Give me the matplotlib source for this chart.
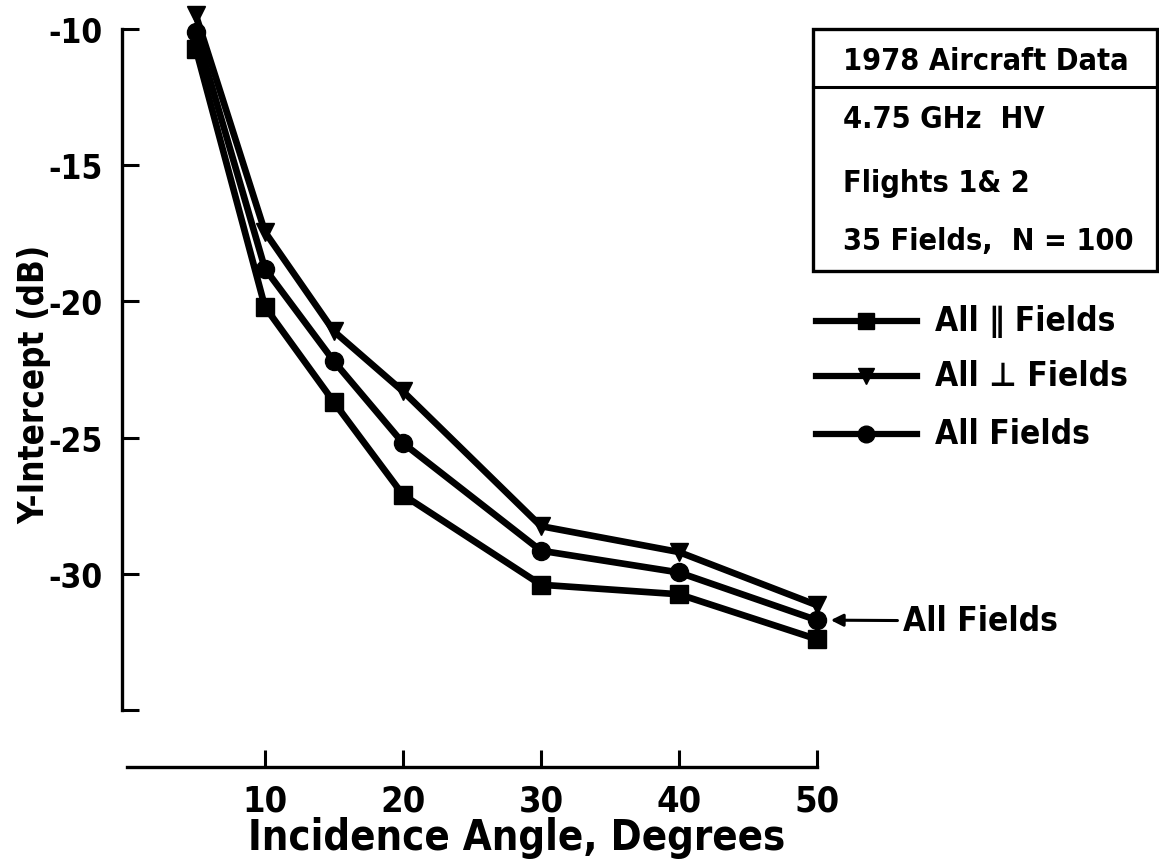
import matplotlib
matplotlib.use('Agg')
import matplotlib.pyplot as plt
from matplotlib.patches import Rectangle

# 字体：窄体 DejaVu，接近原图的手写字母风格
plt.rcParams['font.family'] = ['DejaVu Sans']
plt.rcParams['font.stretch'] = 'condensed'
plt.rcParams['font.weight'] = 'bold'
plt.rcParams['axes.labelweight'] = 'bold'

# ==================== 数据 ====================
angles = [5, 10, 15, 20, 30, 40, 50]
par_fields = [-10.75, -20.2, -23.7, -27.1, -30.4, -30.75, -32.4]   # All ∥ Fields (square)
perp_fields = [-9.5, -17.45, -21.1, -23.3, -28.25, -29.2, -31.15]  # All ⊥ Fields (triangle)
all_fields = [-10.1, -18.8, -22.2, -25.2, -29.15, -29.95, -31.7]   # All Fields (circle)

x_ticks = [10, 20, 30, 40, 50]
y_ticks = [-10, -15, -20, -25, -30, -35]
y_tick_labels = ['-10', '-15', '-20', '-25', '-30', '']

series = [
    ('All \u2225 Fields', par_fields, 's'),
    ('All \u22a5 Fields', perp_fields, 'v'),
    ('All Fields', all_fields, 'o'),
]

# ==================== 绘图 ====================
W, H = 1159, 862
fig = plt.figure(figsize=(W / 100, H / 100), dpi=100)
fig.patch.set_facecolor('white')

ax_left, ax_right, ax_top, ax_bot = 122, 840, 0, 768
ax = fig.add_axes([ax_left / W, (H - ax_bot) / H,
                   (ax_right - ax_left) / W, (ax_bot - ax_top) / H])
ax.set_xlim(-0.36, 51.67)
ax.set_ylim(-37.09, -8.9)
ax.patch.set_alpha(0)

for label, vals, mk in series:
    ax.plot(angles, vals, color='black', lw=4.8, marker=mk, ms=13,
            mfc='black', mec='black', clip_on=False, zorder=3)

for side in ['top', 'right']:
    ax.spines[side].set_visible(False)
ax.spines['left'].set_bounds(-35, -10)
ax.spines['bottom'].set_bounds(0, 50)
ax.spines['left'].set_linewidth(2.4)
ax.spines['bottom'].set_linewidth(2.4)

ax.set_yticks(y_ticks)
ax.set_yticklabels(y_tick_labels)
ax.set_xticks(x_ticks)
ax.tick_params(axis='both', direction='in', length=12, width=2.2,
               labelsize=24, pad=14)
ax.tick_params(axis='x', pad=12, labelsize=26)

ax.set_ylabel('Y-Intercept (dB)', fontsize=25)
ax.yaxis.set_label_coords(-0.098, 0.499)
ax.set_xlabel('Incidence Angle, Degrees', fontsize=30)
ax.xaxis.set_label_coords(0.55, -0.064)

# --- 右上角信息框 ---
box = Rectangle((813 / W, 1 - 272 / H), (1157 - 813) / W, (272 - 30) / H,
                transform=fig.transFigure, fill=False, lw=2.4, color='black')
fig.add_artist(box)
fig.add_artist(plt.Line2D([813 / W, 1157 / W], [1 - 88 / H, 1 - 88 / H],
                          transform=fig.transFigure, color='black', lw=2.2))
info_lines = [('1978 Aircraft Data', 62), ('4.75 GHz  HV', 120),
              ('Flights 1& 2', 183), ('35 Fields,  N = 100', 242)]
for txt, py in info_lines:
    fig.text(843 / W, 1 - py / H, txt, fontsize=22, va='center', ha='left')

# --- 图例 ---
legend_y = [322, 377, 435]
for (label, vals, mk), py in zip(series, legend_y):
    fig.add_artist(plt.Line2D([816 / W, 917 / W], [1 - py / H, 1 - py / H],
                              transform=fig.transFigure, color='black', lw=4.5))
    fig.add_artist(plt.Line2D([866 / W], [1 - py / H], transform=fig.transFigure,
                              marker=mk, ms=12, color='black'))
    fig.text(935 / W, 1 - py / H, label, fontsize=24, va='center', ha='left')

# --- 箭头标注 ---
ax.annotate('All Fields', xy=(51.0, all_fields[-1]), xytext=(903 / W, 1 - 622 / H),
            textcoords='figure fraction', fontsize=24, va='center', ha='left',
            arrowprops=dict(arrowstyle='-|>', color='black', lw=2.2,
                            mutation_scale=18, shrinkA=2, shrinkB=0))

fig.savefig('out.png', dpi=100, facecolor='white')
